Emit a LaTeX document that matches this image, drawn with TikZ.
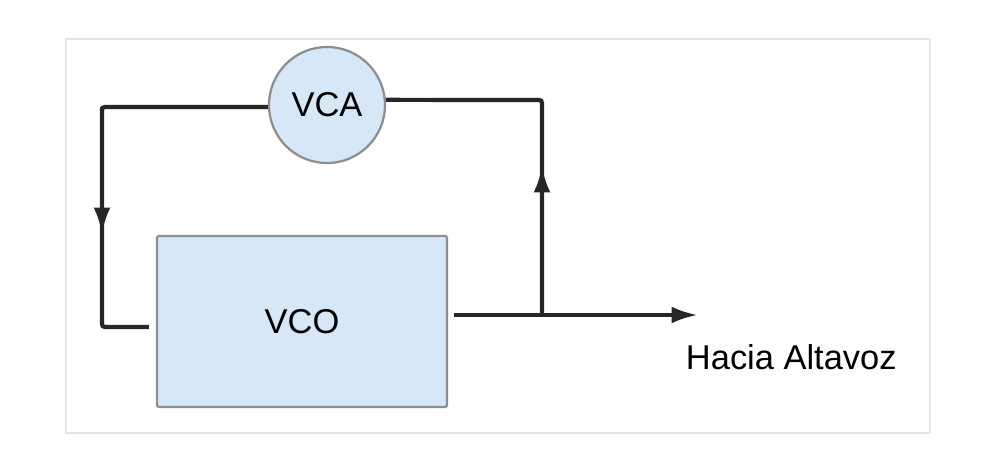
\documentclass[tikz,border=0pt]{standalone}
\usepackage{fontspec}
\setmainfont{Liberation Sans}
\usepackage{tikz}
\usetikzlibrary{arrows.meta,shapes.geometric}

\definecolor{boxfill}{HTML}{D6E7F8}
\definecolor{boxline}{HTML}{8E8E8E}
\definecolor{wirecol}{HTML}{262626}
\definecolor{framecol}{HTML}{E4E4E4}

\tikzset{
  wire/.style={draw=wirecol,line width=3pt,rounded corners=2pt,>={Latex[length=0.66cm,width=0.42cm]}},
  block/.style={draw=boxline,fill=boxfill,line width=1.6pt,rounded corners=1.5pt,inner sep=0pt},
  txt/.style={font=\fontsize{24.5}{29}\selectfont,text=black}
}

\begin{document}
\begin{tikzpicture}[x=0.025cm,y=-0.025cm]
   \useasboundingbox (0,0) rectangle (993,473);
   \fill[white] (0,0) rectangle (993,473);
   \draw[framecol,line width=0.8pt] (66,39) rectangle (930,433); % outer frame
   % blocks
   \node[block,circle,minimum size=2.9cm,txt] (vca) at (327,105) {VCA};
   \node[block,rectangle,minimum width=7.25cm,minimum height=4.275cm,txt] (vco) at (302,321.5) {VCO};
   % points on the wires
   \coordinate (lt) at (102,107);
   \coordinate (ltip) at (102,234);
   \coordinate (lb) at (102,327);
   \coordinate (split) at (542,315);
   \coordinate (rtip) at (542,166);
   \coordinate (rt) at (542,100);
   \coordinate (spk) at (698,315);
   % feedback loop, left side
   \draw[wire,shorten >=5pt] (vca.182) -- (lt) -- (lb) -- (vco.west |- lb);
   \draw[wire,->] (lt) -- (ltip);
   % output and right side
   \draw[wire,->,shorten <=4pt] (vco.east |- split) -- (spk);
   \draw[wire] (split) -- (rt) -- (vca.5);
   \draw[wire,->] (split) -- (rtip);
   \node[txt,anchor=west] (hacia) at (681,357) {Hacia Altavoz};
\end{tikzpicture}
\end{document}
